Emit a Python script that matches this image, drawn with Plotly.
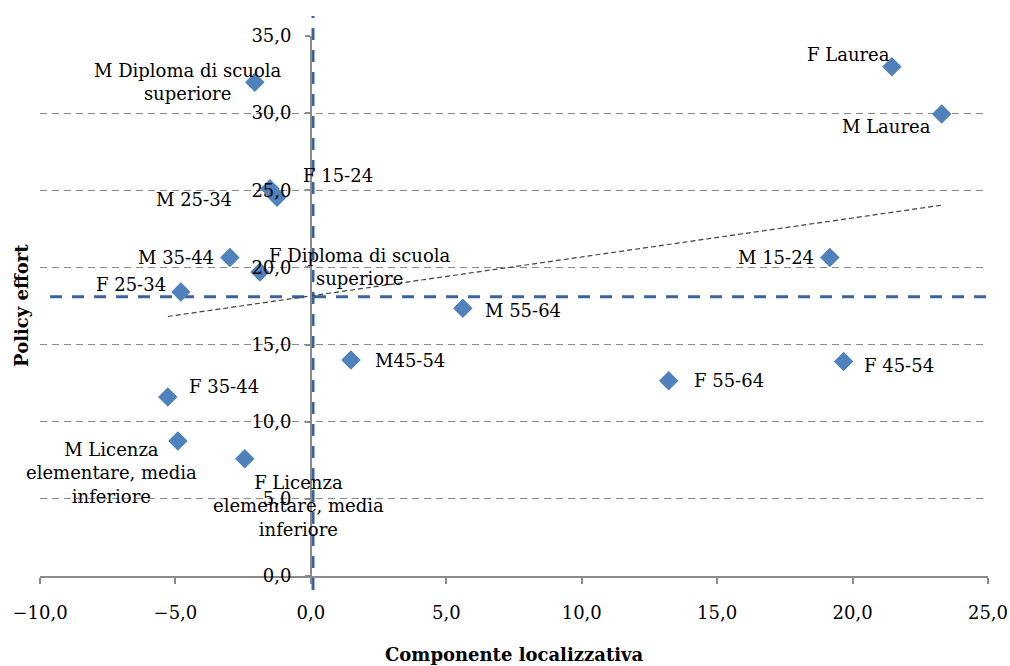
import numpy as np
import plotly.graph_objects as go

# Gruppi (sesso + classe d'età / titolo di studio)
labels = [
    "M Diploma di scuola<br>superiore", "F Laurea", "M Laurea", "F 15-24", "M 25-34",
    "M 35-44", "F Diploma di scuola<br>superiore", "F 25-34", "M 55-64", "M45-54",
    "M 15-24", "F 45-54", "F 55-64", "F 35-44",
    "M Licenza<br>elementare, media<br>inferiore", "F Licenza<br>elementare, media<br>inferiore",
]
componente_localizzativa = [-2.07, 21.45, 23.29, -1.25, -1.51, -2.99, -1.88, -4.80,
                            5.61, 1.48, 19.16, 19.67, 13.21, -5.28, -4.91, -2.44]
policy_effort = [32.0, 33.0, 29.95, 24.55, 25.1, 20.65, 19.7, 18.4,
                 17.35, 14.0, 20.65, 13.9, 12.65, 11.6, 8.75, 7.6]

# Valori di riferimento (linee tratteggiate blu)
rif_x = 0.08
rif_y = 18.1

# Scostamento delle etichette rispetto al punto (pixel)
label_shift = [(-67, 0), (-43, 12), (-55, -13), (61, 22), (-76, -11),
               (-54, 0), (100, 5), (-50, 8), (60, -2), (59, 0),
               (-54, 0), (55, -4), (60, 0), (56, 11), (-66, -32), (54, -47)]

FONT = "DejaVu Serif"
BLUE = "#4F81BD"
DARK_BLUE = "#3A64A0"
GRAY = "#8A8A8A"

x = np.array(componente_localizzativa)
y = np.array(policy_effort)
slope, intercept = np.polyfit(x, y, 1)
xt = np.array([x.min(), x.max()])

fig = go.Figure()

# linea di tendenza lineare
fig.add_trace(go.Scatter(
    x=xt, y=slope * xt + intercept, mode="lines",
    line=dict(color="#404040", width=1.2, dash="5px,3px"),
    hoverinfo="skip", showlegend=False,
))

fig.add_trace(go.Scatter(
    x=componente_localizzativa, y=policy_effort, mode="markers",
    marker=dict(symbol="diamond", size=15, color=BLUE, line=dict(width=0)),
    showlegend=False,
))

for lab, xv, yv, (dx, dy) in zip(labels, componente_localizzativa, policy_effort, label_shift):
    fig.add_annotation(
        x=xv, y=yv, xref="x", yref="y", text=lab, showarrow=False,
        xshift=dx, yshift=dy, xanchor="center", yanchor="middle", align="center",
        font=dict(family=FONT, size=18, color="#000000"),
    )

# linee di riferimento
fig.add_shape(type="line", xref="x", yref="y", x0=-9.63, x1=25, y0=rif_y, y1=rif_y,
              line=dict(color=DARK_BLUE, width=3, dash="12px,10px"), layer="between")
fig.add_shape(type="line", xref="x", yref="paper", x0=rif_x, x1=rif_x, y0=-0.026, y1=1.037,
              line=dict(color=DARK_BLUE, width=3, dash="12px,10px"), layer="between")

# titoli degli assi
fig.add_annotation(
    x=-0.019, y=0.502, xref="paper", yref="paper", text="<b>Policy effort</b>",
    textangle=-90, showarrow=False, xanchor="center", yanchor="middle",
    font=dict(family=FONT, size=18, color="#000000"),
)
fig.add_annotation(
    x=0.5, y=-0.146, xref="paper", yref="paper", text="<b>Componente localizzativa</b>",
    showarrow=False, xanchor="center", yanchor="middle",
    font=dict(family=FONT, size=18, color="#000000"),
)

fig.update_layout(
    width=1010, height=666,
    margin=dict(l=40, r=22, t=36, b=90),
    paper_bgcolor="white", plot_bgcolor="white",
    separators=",.",
    font=dict(family=FONT, size=18, color="#000000"),
    xaxis=dict(
        range=[-10, 25], tickmode="linear", tick0=-10, dtick=5, tickformat=".1f",
        showgrid=False, zeroline=False, showline=True, linecolor=GRAY, linewidth=1.5,
        ticks="outside", ticklen=6, tickcolor=GRAY, tickwidth=1.5,
        ticklabelstandoff=14, automargin=False,
        tickfont=dict(family=FONT, size=18, color="#000000"),
    ),
    yaxis=dict(
        range=[0, 35], tickmode="linear", tick0=0, dtick=5, tickformat=".1f",
        anchor="free", position=(0 - (-10)) / 35, automargin=False,
        showgrid=True, gridcolor=GRAY, gridwidth=1.3, griddash="7px,5px",
        zeroline=False, showline=True, linecolor=GRAY, linewidth=1.5,
        ticks="outside", ticklen=5, tickcolor=GRAY, tickwidth=1.5,
        ticklabelstandoff=10,
        tickfont=dict(family=FONT, size=18, color="#000000"),
    ),
)

fig.write_html("out.html")
